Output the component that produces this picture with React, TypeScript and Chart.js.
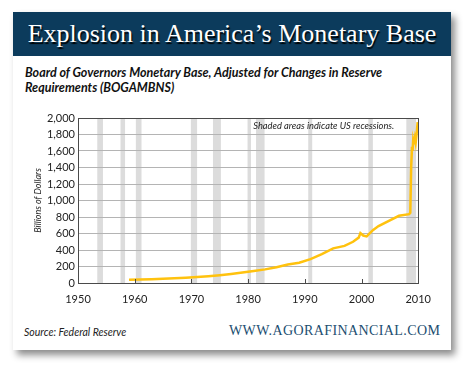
import React, { useEffect, useRef } from "react";
import { Chart, registerables } from "chart.js";

Chart.register(...registerables);

const title = "Explosion in America\u2019s Monetary Base";
const subtitleLines = [
  "Board of Governors Monetary Base, Adjusted for Changes in Reserve",
  "Requirements (BOGAMBNS)",
];
const yAxisTitle = "Billions of Dollars";
const note = "Shaded areas indicate US recessions.";
const sourceText = "Source: Federal Reserve";
const siteText = "WWW.AGORAFINANCIAL.COM";

const years = [
  1959, 1961, 1963, 1965, 1967, 1969, 1971, 1973, 1975, 1977, 1979, 1981, 1983,
  1985, 1987, 1989, 1991, 1993, 1995, 1997, 1998.5, 1999.5, 1999.8, 2000.3,
  2000.9, 2002, 2003, 2005, 2006.6, 2008.4, 2008.6, 2008.75, 2008.9, 2009.0,
  2009.1, 2009.2, 2009.4, 2009.55, 2009.7, 2009.9,
];
const values = [
  40, 42, 46, 52, 58, 64, 72, 82, 95, 110, 128, 145, 165, 192, 225, 245, 290,
  350, 420, 450, 500, 550, 605, 575, 565, 640, 690, 760, 815, 835, 850, 1400,
  1650, 1600, 1720, 1680, 1760, 1700, 1800, 1950,
];

const recessionStart = [1953.4, 1957.5, 1960.2, 1969.9, 1973.8, 1979.9, 1981.4, 1990.6, 2001.2, 2007.9];
const recessionEnd = [1954.4, 1958.3, 1961.2, 1971.0, 1975.2, 1980.5, 1982.9, 1991.3, 2002.0, 2009.6];

const xMin = 1950;
const xMax = 2010;
const xStep = 10;
const yMin = 0;
const yMax = 2000;
const yStep = 200;

const tickFont = "Lato";

const overlayPlugin = {
  id: "overlay",
  beforeDraw(chart: any) {
    const { ctx, chartArea, scales } = chart;
    ctx.save();
    ctx.fillStyle = "#dcdcdc";
    for (let i = 0; i < recessionStart.length; i++) {
      const x0 = scales.x.getPixelForValue(recessionStart[i]);
      const x1 = scales.x.getPixelForValue(recessionEnd[i]);
      ctx.fillRect(x0, chartArea.top, x1 - x0, chartArea.bottom - chartArea.top);
    }
    ctx.restore();
  },
  afterDatasetsDraw(chart: any) {
    const { ctx, chartArea, scales } = chart;
    ctx.save();
    ctx.strokeStyle = "#4a4a4a";
    ctx.lineWidth = 1;
    for (let v = xMin; v <= xMax; v += xStep) {
      const x = Math.round(scales.x.getPixelForValue(v)) + 0.5;
      ctx.beginPath();
      ctx.moveTo(x, chartArea.bottom);
      ctx.lineTo(x, chartArea.bottom - 4);
      ctx.stroke();
    }
    ctx.strokeRect(
      Math.round(chartArea.left) + 0.5,
      Math.round(chartArea.top) + 0.5,
      Math.round(chartArea.right - chartArea.left),
      Math.round(chartArea.bottom - chartArea.top)
    );
    ctx.fillStyle = "#222";
    ctx.font = `italic 9.3px ${tickFont}`;
    ctx.textAlign = "right";
    ctx.textBaseline = "middle";
    ctx.fillText(note, chartArea.right - 24, chartArea.top + 8);
    ctx.restore();
  },
};

function ChartBox() {
  const ref = useRef<HTMLCanvasElement | null>(null);
  useEffect(() => {
    if (!ref.current) return;
    const chart = new Chart(ref.current, {
      type: "line",
      data: {
        datasets: [
          {
            data: years.map((y, i) => ({ x: y, y: values[i] })),
            borderColor: "#ffc20e",
            borderWidth: 2.5,
            pointRadius: 0,
            tension: 0,
            fill: false,
          },
        ],
      },
      options: {
        animation: false,
        responsive: false,
        maintainAspectRatio: false,
        layout: { padding: { top: 18, right: 19, left: 2, bottom: 0 } },
        plugins: { legend: { display: false }, tooltip: { enabled: false } },
        scales: {
          x: {
            type: "linear",
            min: xMin,
            max: xMax,
            afterFit: (s: any) => {
              s.height = 27;
            },
            grid: { display: false, drawTicks: false },
            border: { display: false },
            ticks: {
              stepSize: xStep,
              padding: 10,
              color: "#222",
              font: { family: tickFont, size: 11 },
              callback: (v: any) => String(v),
              maxRotation: 0,
            },
          },
          y: {
            min: yMin,
            max: yMax,
            afterFit: (s: any) => {
              s.width = 45;
            },
            grid: { color: "#b4b4b4", drawTicks: false },
            border: { display: false },
            title: {
              display: true,
              text: yAxisTitle,
              color: "#222",
              padding: 0,
              font: { family: tickFont, size: 9, style: "italic" },
            },
            ticks: {
              stepSize: yStep,
              padding: 3,
              color: "#222",
              font: { family: tickFont, size: 11 },
              callback: (v: any) => Number(v).toLocaleString("en-US"),
            },
          },
        },
      },
      plugins: [overlayPlugin],
    });
    return () => chart.destroy();
  }, []);
  return (
    <canvas
      ref={ref}
      width={410}
      height={210}
      style={{ position: "absolute", left: 31, top: 100, width: 410, height: 210 }}
    />
  );
}

export default function App() {
  return (
    <div style={{ position: "fixed", left: 0, top: 0, width: 470, height: 370, background: "#fff", overflow: "hidden" }}>
      <div
        style={{
          position: "absolute",
          left: 13,
          top: 12,
          width: 438,
          height: 338,
          background: "#fff",
          boxShadow: "4px 5px 7px rgba(0,0,0,0.45)",
        }}
      />
      <div style={{ position: "absolute", left: 13, top: 12, width: 438, height: 44, background: "#0c3b5c" }} />
      <div
        style={{
          position: "absolute",
          left: 13,
          top: 12,
          width: 438,
          height: 44,
          lineHeight: "44px",
          textAlign: "center",
          color: "#fff",
          fontFamily: "'Liberation Serif', serif",
          fontSize: 26,
          textShadow: "1px 2px 1px #000",
          whiteSpace: "nowrap",
        }}
      >
        {title}
      </div>
      <div
        style={{
          position: "absolute",
          left: 25,
          top: 65,
          fontFamily: "Lato",
          fontWeight: 700,
          fontStyle: "italic",
          fontSize: 12.5,
          lineHeight: "15px",
          color: "#111",
          whiteSpace: "nowrap",
        }}
      >
        {subtitleLines.map((l, i) => (
          <div key={i}>{l}</div>
        ))}
      </div>
      <ChartBox />
      <div
        style={{
          position: "absolute",
          left: 24,
          top: 326,
          fontFamily: "Lato",
          fontStyle: "italic",
          fontSize: 10.5,
          color: "#222",
          whiteSpace: "nowrap",
        }}
      >
        {sourceText}
      </div>
      <div
        style={{
          position: "absolute",
          left: 229,
          top: 323,
          fontFamily: "'Liberation Serif', serif",
          fontSize: 14,
          letterSpacing: 0.4,
          color: "#1c4e70",
          whiteSpace: "nowrap",
        }}
      >
        {siteText}
      </div>
    </div>
  );
}
